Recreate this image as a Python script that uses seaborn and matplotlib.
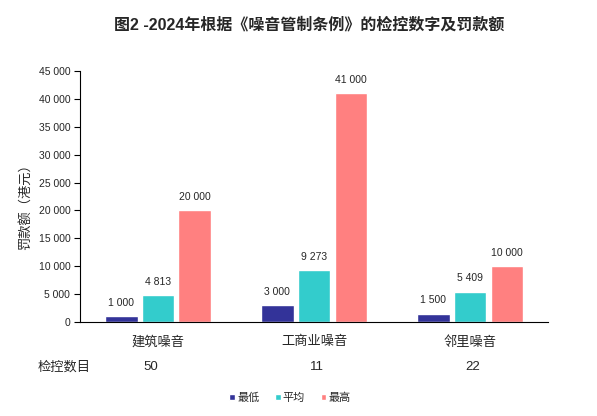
import matplotlib
matplotlib.use("Agg")
import matplotlib.pyplot as plt
import seaborn as sns
import pandas as pd
from matplotlib.ticker import FuncFormatter
from matplotlib.patches import Patch

categories = ["建筑噪音", "工商业噪音", "邻里噪音"]
series_names = ["最低", "平均", "最高"]
lowest = [1000, 3000, 1500]
average = [4813, 9273, 5409]
highest = [20000, 41000, 10000]
case_counts = [50, 11, 22]
colors = ["#333399", "#33CCCC", "#FF8080"]

sns.set_theme(style="white")
plt.rcParams['font.family'] = ['Liberation Sans', 'Noto Sans CJK SC', 'DejaVu Sans']

rows = []
for s, vals in zip(series_names, [lowest, average, highest]):
    for c, v in zip(categories, vals):
        rows.append({"类别": c, "系列": s, "值": v})
df = pd.DataFrame(rows)

fig = plt.figure(figsize=(5.97, 4.16), dpi=100)
ax = fig.add_axes([0.134, 0.226, 0.784, 0.603])
sns.barplot(data=df, x="类别", y="值", hue="系列", order=categories,
            hue_order=series_names, palette=colors, width=0.71, gap=0.11,
            ax=ax, legend=False, saturation=1)

fmt = lambda v: f"{int(v):,}".replace(",", " ")
for cont in ax.containers:
    for bar in cont:
        h = bar.get_height()
        ax.annotate(fmt(h), (bar.get_x() + bar.get_width() / 2, h),
                    xytext=(0, 6), textcoords="offset points",
                    ha="center", va="bottom", fontsize=7.5)

ax.set_ylim(0, 45000)
ax.set_yticks(range(0, 45001, 5000))
ax.yaxis.set_major_formatter(FuncFormatter(lambda v, p: fmt(v)))
ax.set_xlim(-0.5, 2.5)
ax.tick_params(axis="y", direction="out", length=4, width=0.8, labelsize=7.5, pad=3, left=True, color="black")
ax.tick_params(axis="x", length=0, labelsize=9.5, pad=10)
for s in ["top", "right"]:
    ax.spines[s].set_visible(False)
for s in ["left", "bottom"]:
    ax.spines[s].set_color("black")
    ax.spines[s].set_linewidth(0.8)
ax.set_xlabel("")
ax.set_ylabel("罚款额（港元）", fontsize=9.5)
ax.yaxis.set_label_coords(-0.1, 0.47)

count_offsets = [-0.045, 0.02, 0.02]
for i, (n, off) in enumerate(zip(case_counts, count_offsets)):
    ax.text(i + off, -0.179, str(n), transform=ax.get_xaxis_transform(),
            ha="center", va="center", fontsize=9.5)
fig.text(38 / 597, (416 - 367) / 416, "检控数目", ha="left", va="center", fontsize=9.5)

fig.text(309 / 597, (416 - 25) / 416, "图2 -2024年根据《噪音管制条例》的检控数字及罚款额",
         ha="center", va="center", fontsize=11.5, fontweight="bold")

handles = [Patch(facecolor=c, label=n) for c, n in zip(colors, series_names)]
fig.legend(handles=handles, loc="center", bbox_to_anchor=(290 / 597, (416 - 398) / 416),
           ncol=3, frameon=False, fontsize=8, handlelength=0.5, handleheight=0.5,
           handletextpad=0.2, columnspacing=1.4)

fig.savefig("out.png", dpi=100)
